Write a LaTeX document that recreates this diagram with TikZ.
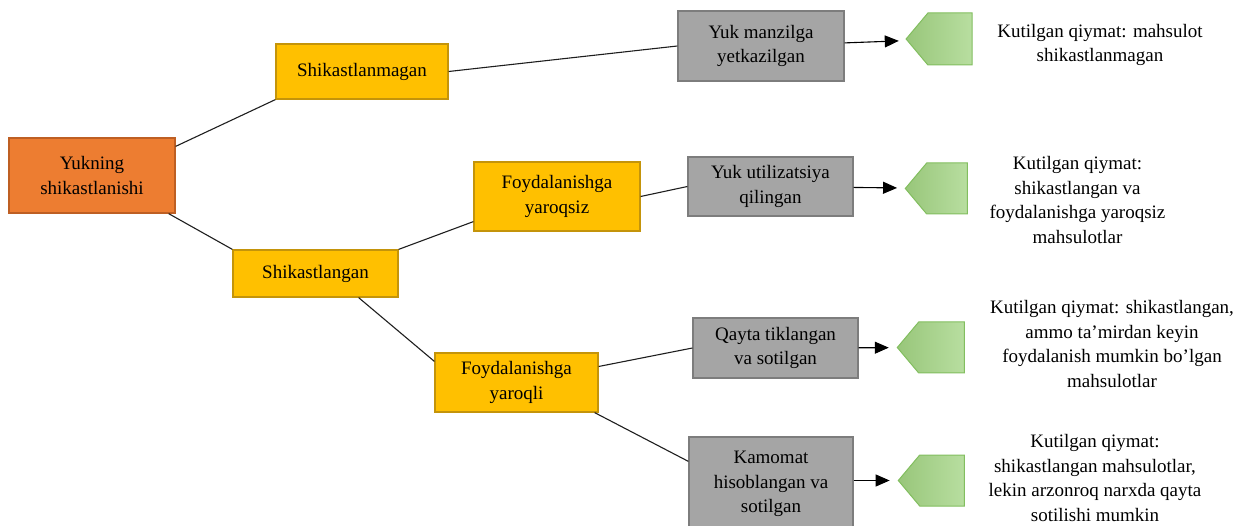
\documentclass[tikz,border=0pt]{standalone}
\usepackage{fontspec}
\setmainfont{Liberation Serif}
\usetikzlibrary{arrows.meta, shapes.symbols}

\begin{document}
\begin{tikzpicture}[x=1pt, y=-1pt,
    box/.style={rectangle, draw, line width=1.2pt, align=center, inner sep=2pt, font=\fontsize{19}{24.5}\selectfont},
    rootbox/.style={box, fill=rootcolor, draw=rootline},
    choicebox/.style={box, fill=choicecolor, draw=choiceline},
    outcomebox/.style={box, fill=outcomecolor, draw=outcomeline},
    endmark/.style={signal, signal to=west, signal pointer angle=100, draw=endline, line width=1pt, left color=endleft, right color=endright, minimum width=66pt, minimum height=52pt, inner sep=0pt},
    valuetext/.style={align=center, inner sep=0pt, font=\fontsize{19}{24.5}\selectfont},
    branch/.style={line width=1.1pt, draw=branchcolor},
    arrow/.style={-{Triangle[length=14pt, width=12pt]}, line width=1.1pt, shorten >=8pt}]

    % Define colors
    \definecolor{rootcolor}{RGB}{237,125,49}
    \definecolor{rootline}{RGB}{190,95,35}
    \definecolor{choicecolor}{RGB}{255,192,0}
    \definecolor{choiceline}{RGB}{196,148,10}
    \definecolor{outcomecolor}{RGB}{165,165,165}
    \definecolor{outcomeline}{RGB}{125,125,125}
    \definecolor{endleft}{RGB}{152,198,122}
    \definecolor{endright}{RGB}{184,222,160}
    \definecolor{endline}{RGB}{130,190,95}
    \definecolor{branchcolor}{RGB}{30,30,30}

    \useasboundingbox (0,0) rectangle (1253,526);

    % Tree nodes
    \node[rootbox, minimum width=166pt, minimum height=75pt] (root) at (92,175.5) {Yukning\\shikastlanishi};
    \node[choicebox, minimum width=172pt, minimum height=55pt] (intact) at (362,71.5) {Shikastlanmagan};
    \node[choicebox, minimum width=165pt, minimum height=47pt] (damaged) at (315.5,273.5) {Shikastlangan};
    \node[choicebox, minimum width=166pt, minimum height=69pt] (unusable) at (557,196.5) {Foydalanishga\\yaroqsiz};
    \node[choicebox, minimum width=163pt, minimum height=59pt] (usable) at (516.5,382.5) {Foydalanishga\\yaroqli};

    % Outcomes
    \node[outcomebox, minimum width=166pt, minimum height=70pt] (delivered) at (761,46) {Yuk manzilga\\yetkazilgan};
    \node[outcomebox, minimum width=165pt, minimum height=59pt] (disposed) at (770.5,186.5) {Yuk utilizatsiya\\qilingan};
    \node[outcomebox, minimum width=165pt, minimum height=60pt] (repaired) at (775.5,348) {Qayta tiklangan\\va sotilgan};
    \node[outcomebox, minimum width=164pt, minimum height=94pt] (shortage) at (771,484) {Kamomat\\hisoblangan va\\sotilgan};

    % End markers
    \node[endmark] (end1) at (950,39) {};
    \node[endmark, minimum width=62pt, minimum height=51pt] (end2) at (947,188.5) {};
    \node[endmark, minimum width=67pt, minimum height=51pt] (end3) at (941.5,347.5) {};
    \node[endmark, minimum height=51pt] (end4) at (942,480.5) {};

    % Expected values
    \node[valuetext] (value1) at (1100,45) {Kutilgan qiymat: mahsulot\\shikastlanmagan};
    \node[valuetext] (value2) at (1077.5,200) {Kutilgan qiymat:\\shikastlangan va\\foydalanishga yaroqsiz\\mahsulotlar};
    \node[valuetext] (value3) at (1112,344) {Kutilgan qiymat: shikastlangan,\\ammo ta'mirdan keyin\\foydalanish mumkin bo'lgan\\mahsulotlar};
    \node[valuetext] (value4) at (1095,478) {Kutilgan qiymat:\\shikastlangan mahsulotlar,\\lekin arzonroq narxda qayta\\sotilishi mumkin};

    % Branches
    \draw[branch] ([yshift=-9pt]root.north east) -- (intact.south west);
    \draw[branch] ([xshift=-7pt]root.south east) -- (damaged.north west);
    \draw[branch] (intact.east) -- (delivered.west);
    \draw[branch] (damaged.north east) -- ([yshift=10pt]unusable.south west);
    \draw[branch] ([xshift=-40pt]damaged.south east) -- ([yshift=-9pt]usable.north west);
    \draw[branch] (unusable.east) -- (disposed.west);
    \draw[branch] ([yshift=16pt]usable.east) -- (repaired.west);
    \draw[branch] ([xshift=-4pt]usable.south east) -- ([yshift=-25pt]shortage.north west);

    % Arrows to end markers
    \draw[arrow] (delivered) -- (end1);
    \draw[arrow] (disposed) -- (end2);
    \draw[arrow] (repaired) -- (end3);
    \draw[arrow] (shortage.east |- end4) -- (end4);

\end{tikzpicture}
\end{document}
